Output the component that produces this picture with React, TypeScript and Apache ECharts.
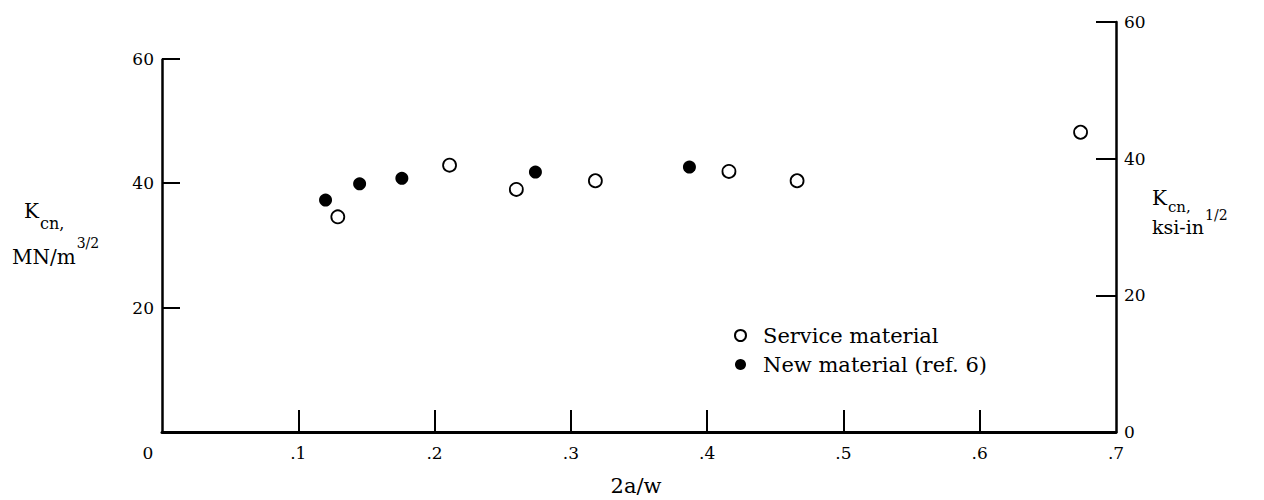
import React, { useEffect, useRef } from 'react';
import * as echarts from 'echarts';

// ---- data ----
const xTickValues = [0, 0.1, 0.2, 0.3, 0.4, 0.5, 0.6, 0.7];
const leftTickValues = [20, 40, 60]; // MN/m^3/2
const rightTickValues = [0, 20, 40, 60]; // ksi-in^1/2
const serviceX = [0.129, 0.211, 0.26, 0.318, 0.416, 0.466, 0.674];
const serviceY = [34.6, 42.9, 39.0, 40.4, 41.9, 40.4, 48.2];
const newX = [0.12, 0.145, 0.176, 0.274, 0.387];
const newY = [37.3, 39.9, 40.8, 41.8, 42.6];
const KSI_TO_MN = 1.0988; // 1 ksi-in^1/2 = 1.0988 MN/m^3/2
const seriesNames = ['Service material', 'New material (ref. 6)'];

const SERIF_NAME = 'DejaVu Serif';
const SERIF = '"DejaVu Serif", "Liberation Serif", serif';

let measureCtx: CanvasRenderingContext2D | null = null;
function measure(text: string, size: number): number {
  if (!measureCtx) measureCtx = document.createElement('canvas').getContext('2d');
  if (!measureCtx) return text.length * size * 0.6;
  measureCtx.font = `${size}px "${SERIF_NAME}"`;
  return measureCtx.measureText(text).width;
}

function txt(text: string, x: number, y: number, size: number, align: string = 'left') {
  return {
    type: 'text',
    x,
    y,
    silent: true,
    style: {
      text,
      fontFamily: SERIF,
      fontSize: size,
      fill: '#000',
      align,
      verticalAlign: 'middle',
    },
  };
}

// main text + lowered/raised small text right after it
function withScript(
  main: string,
  script: string,
  x: number,
  y: number,
  mainSize: number,
  scriptSize: number,
  dy: number,
  gap: number = 1
) {
  const w = measure(main, mainSize);
  return [txt(main, x, y, mainSize), txt(script, x + w + gap, y + dy, scriptSize)];
}

export default function App() {
  const ref = useRef<HTMLDivElement>(null);

  useEffect(() => {
    if (!ref.current) return;
    const chart = echarts.init(ref.current, undefined, { renderer: 'svg' });
    const rightMax = 60;
    const leftMax = rightMax * KSI_TO_MN;

    chart.setOption({
      animation: false,
      backgroundColor: '#fff',
      grid: { left: 162, right: 148, top: 22, bottom: 68, containLabel: false },
      xAxis: {
        type: 'value',
        min: 0,
        max: 0.7,
        interval: 0.1,
        axisLine: { show: true, lineStyle: { color: '#000', width: 3 } },
        axisTick: {
          show: true,
          inside: true,
          length: 22,
          customValues: xTickValues.filter((v) => v > 0 && v < 0.7),
          lineStyle: { color: '#000', width: 2 },
        },
        axisLabel: {
          customValues: xTickValues,
          margin: 12,
          color: '#000',
          fontFamily: SERIF,
          fontSize: 17,
          formatter: (v: number) => (v === 0 ? '{z|0}' : '.' + Math.round(v * 10)),
          rich: { z: { fontFamily: SERIF, fontSize: 17, color: '#000', padding: [0, 28, 0, 0] } },
        },
        splitLine: { show: false },
      },
      yAxis: [
        {
          type: 'value',
          position: 'left',
          min: 0,
          max: leftMax,
          axisLine: { show: false },
          axisTick: {
            show: true,
            inside: true,
            length: 18,
            customValues: leftTickValues,
            lineStyle: { color: '#000', width: 2 },
          },
          axisLabel: {
            customValues: leftTickValues,
            margin: 8,
            color: '#000',
            fontFamily: SERIF,
            fontSize: 17,
          },
          splitLine: { show: false },
        },
        {
          type: 'value',
          position: 'right',
          min: 0,
          max: rightMax,
          interval: 20,
          axisLine: { show: true, onZero: false, lineStyle: { color: '#000', width: 2.5 } },
          axisTick: {
            show: true,
            inside: true,
            length: 20,
            customValues: rightTickValues.filter((v) => v > 0),
            lineStyle: { color: '#000', width: 2 },
          },
          axisLabel: {
            customValues: rightTickValues,
            margin: 8,
            color: '#000',
            fontFamily: SERIF,
            fontSize: 17,
          },
          splitLine: { show: false },
        },
      ],
      legend: {
        data: seriesNames,
        orient: 'vertical',
        left: 729,
        top: 320,
        itemWidth: 11,
        itemHeight: 11,
        itemGap: 8,
        icon: 'circle',
        textStyle: { fontFamily: SERIF, fontSize: 21, color: '#000', padding: [0, 0, 0, 12] },
        selectedMode: false,
      },
      series: [
        {
          name: seriesNames[0],
          type: 'scatter',
          xAxisIndex: 0,
          yAxisIndex: 0,
          symbol: 'circle',
          symbolSize: 13,
          itemStyle: { color: '#fff', borderColor: '#000', borderWidth: 1.8, opacity: 1 },
          data: serviceX.map((x, i) => [x, serviceY[i]]),
          markLine: {
            silent: true,
            symbol: ['none', 'none'],
            label: { show: false },
            lineStyle: { color: '#000', width: 2.5, type: 'solid' },
            emphasis: { disabled: true },
            data: [[{ coord: [0, 0] }, { coord: [0, 60] }]],
          },
        },
        {
          name: seriesNames[1],
          type: 'scatter',
          xAxisIndex: 0,
          yAxisIndex: 0,
          symbol: 'circle',
          symbolSize: 13,
          itemStyle: { color: '#000', borderColor: '#000', borderWidth: 0, opacity: 1 },
          data: newX.map((x, i) => [x, newY[i]]),
        },
      ],
      graphic: [
        // left axis title
        ...withScript('K', 'cn,', 24, 211, 20, 16, 12),
        ...withScript('MN/m', '3/2', 12, 257, 20, 14, -14),
        // right axis title
        ...withScript('K', 'cn,', 1152, 198, 20, 15, 9),
        ...withScript('ksi-in', '1/2', 1152, 227, 19, 14, -12),
        // x axis title
        txt('2a/w', 636, 486, 21, 'center'),
      ],
    });

    return () => chart.dispose();
  }, []);

  return (
    <div
      ref={ref}
      style={{ position: 'fixed', left: 0, top: 0, width: 1264, height: 500, background: '#fff' }}
    />
  );
}
